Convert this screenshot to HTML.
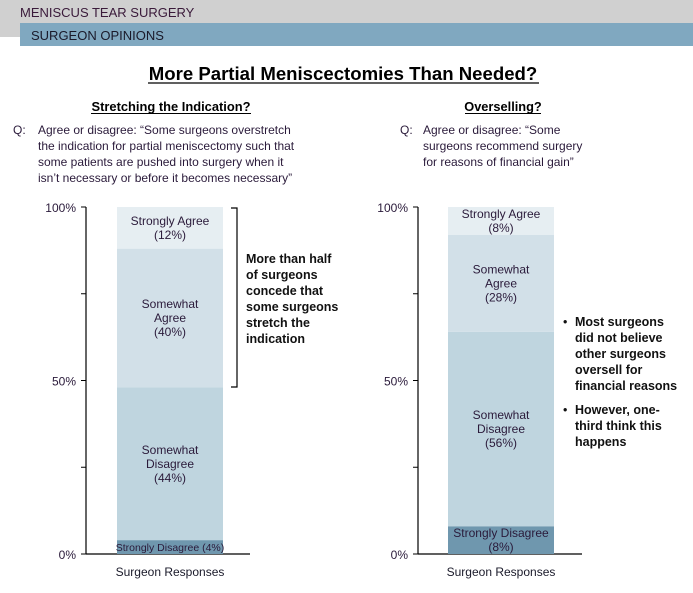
<!DOCTYPE html>
<html><head><meta charset="utf-8"><style>
body{margin:0;width:693px;height:588px;background:#fff;overflow:hidden;font-family:"Liberation Sans",Arial,sans-serif}
svg text{font-family:"Liberation Sans",Arial,sans-serif}
</style></head><body>
<svg id="s" width="693" height="588" viewBox="0 0 693 588" xmlns="http://www.w3.org/2000/svg">
<rect x="0" y="0" width="693" height="37" fill="#d0d0d0"/>
<rect x="20" y="23" width="673" height="23" fill="#80a8c0"/>
<text x="20" y="17" font-size="13" fill="#3a1a3a">MENISCUS TEAR SURGERY</text>
<text x="31" y="40" font-size="13" fill="#1a1a2a">SURGEON OPINIONS</text>
<text x="343" y="80" font-size="18.6" font-weight="bold" text-anchor="middle">More Partial Meniscectomies Than Needed?</text>
<line x1="148" y1="83" x2="539" y2="83" stroke="#000" stroke-width="1.3"/>
<text x="171" y="111" font-size="12.9" font-weight="bold" text-anchor="middle">Stretching the Indication?</text>
<line x1="91" y1="113.5" x2="251" y2="113.5" stroke="#000"/>
<text x="503" y="111" font-size="12.8" font-weight="bold" text-anchor="middle">Overselling?</text>
<line x1="465" y1="113.5" x2="541" y2="113.5" stroke="#000"/>
<g font-size="12" fill="#2a1a3a">
<text x="13" y="134">Q:</text>
<text x="38" y="134">Agree or disagree: “Some surgeons overstretch</text>
<text x="38" y="150">the indication for partial meniscectomy such that</text>
<text x="38" y="166">some patients are pushed into surgery when it</text>
<text x="38" y="182">isn’t necessary or before it becomes necessary”</text>
</g>
<g font-size="12" fill="#2a1a3a">
<text x="400" y="134">Q:</text>
<text x="423" y="134">Agree or disagree: “Some</text>
<text x="423" y="150">surgeons recommend surgery</text>
<text x="423" y="166">for reasons of financial gain”</text>
</g>
<g id="c1"></g><g id="c2"></g>
<g stroke="#000" fill="none" stroke-width="1.2"><path d="M231 208 H237 V387 H231"/></g>
<g font-size="12.5" font-weight="bold" fill="#111">
<text x="246" y="263">More than  half</text><text x="246" y="279">of surgeons</text><text x="246" y="295">concede that</text><text x="246" y="311">some surgeons</text><text x="246" y="327">stretch  the</text><text x="246" y="343">indication</text>
</g>
<g font-size="12.5" font-weight="bold" fill="#111">
<text x="563" y="326" font-weight="normal">•</text>
<text x="575" y="326">Most surgeons</text><text x="575" y="342">did not believe</text><text x="575" y="358">other surgeons</text><text x="575" y="374">oversell for</text><text x="575" y="390">financial reasons</text>
<text x="563" y="414" font-weight="normal">•</text>
<text x="575" y="414">However,  one-</text><text x="575" y="430">third think this</text><text x="575" y="446">happens</text>
</g>
</svg>
<script>
const categories=["Strongly Disagree","Somewhat Disagree","Somewhat Agree","Strongly Agree"];
const leftValues=[4,44,40,12];
const rightValues=[8,56,28,8];
const tickLabels=["0%","50%","100%"];
const tickValues=[0,25,50,75,100];
const colors=["#6f97ae","#bfd5df","#d2e0e8","#e6eef2"];
const NS="http://www.w3.org/2000/svg";
function mk(p,t,a,txt){const e=document.createElementNS(NS,t);for(const k in a)e.setAttribute(k,a[k]);if(txt!==undefined)e.textContent=txt;p.appendChild(e);return e;}
function draw(gid,vals,ax,bx0,bx1,axEnd,side,lines){
 const g=document.getElementById(gid);
 const top=207,bot=554;
 const y=v=>bot-(v/100)*(bot-top);
 mk(g,'line',{x1:ax,y1:top,x2:ax,y2:bot,stroke:'#000','stroke-width':1.2});
 mk(g,'line',{x1:ax,y1:bot,x2:axEnd,y2:bot,stroke:'#000','stroke-width':1.2});
 tickValues.forEach(v=>{const t=mk(g,'line',{x1:ax-5,y1:y(v),x2:ax,y2:y(v),stroke:'#000'});
 
 });
 tickLabels.forEach(l=>{const v=parseFloat(l);const t=mk(g,'text',{x:ax-10,y:y(v)+5,'font-size':12,'text-anchor':'end',fill:'#2a1a3a'},l);
 
 });
 let cum=0;const cx=(bx0+bx1)/2;
 vals.forEach((v,i)=>{const y0=y(cum+v),y1=y(cum);cum+=v;
  const r=mk(g,'rect',{x:bx0,y:y0,width:bx1-bx0,height:y1-y0,fill:colors[i]});
  
  
  const ls=lines[i](v);const mid=(y0+y1)/2;const fs=(ls.length===1)?10.5:12;
  ls.forEach((s,k)=>{const t=mk(g,'text',{x:cx,y:mid+4+(k-(ls.length-1)/2)*14,'font-size':fs,'text-anchor':'middle',fill:'#2a1a3a'},s);
  
  });
 });
 const xl=mk(g,'text',{x:cx,y:576,'font-size':12,'text-anchor':'middle',fill:'#1a1a2a'},'Surgeon Responses');
 
 
}
draw('c1',leftValues,86,117,223,250,0,[
 v=>['Strongly Disagree ('+v+'%)'],
 v=>['Somewhat','Disagree','('+v+'%)'],
 v=>['Somewhat','Agree','('+v+'%)'],
 v=>['Strongly Agree','('+v+'%)']]);
draw('c2',rightValues,418,448,554,582,0,[
 v=>['Strongly Disagree','('+v+'%)'],
 v=>['Somewhat','Disagree','('+v+'%)'],
 v=>['Somewhat','Agree','('+v+'%)'],
 v=>['Strongly Agree','('+v+'%)']]);
</script>
</body></html>
